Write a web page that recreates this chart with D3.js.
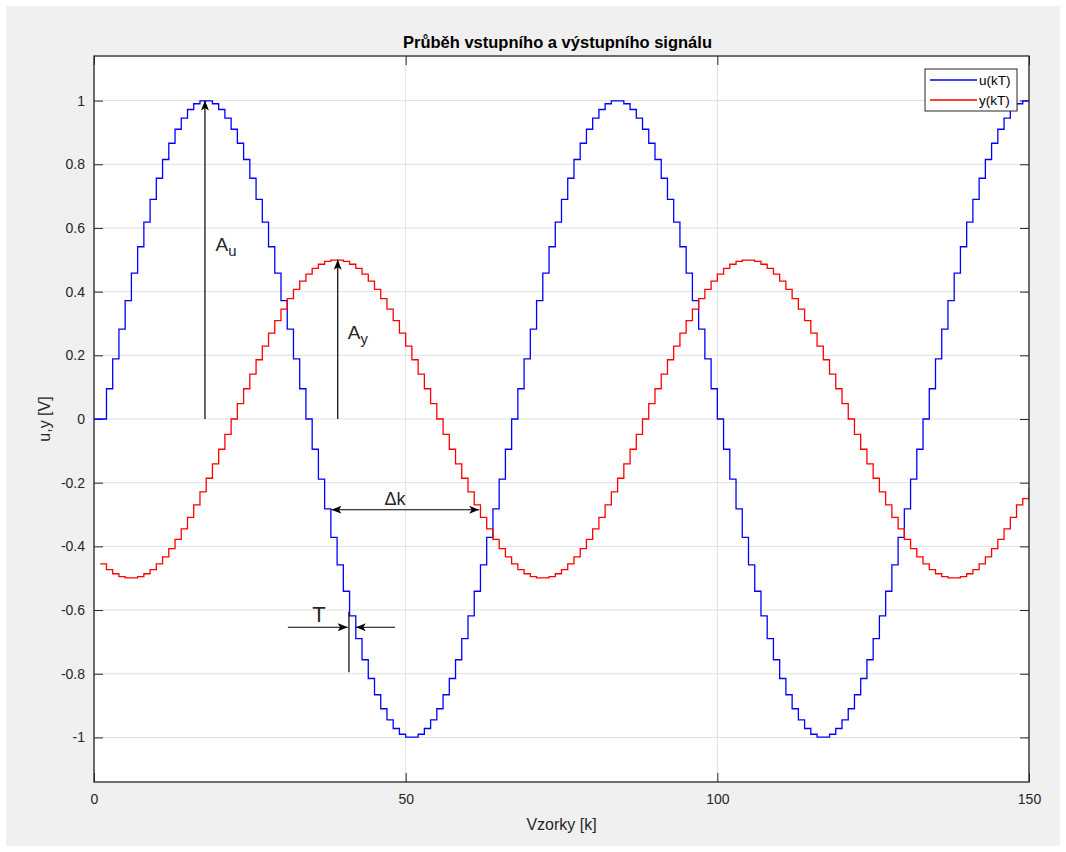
<!DOCTYPE html>
<html>
<head>
<meta charset="utf-8">
<script src="https://cdn.jsdelivr.net/npm/d3@7"></script>
<style>
  html, body { margin: 0; padding: 0; background: #fff; }
  svg { display: block; font-family: "Liberation Sans", Arial, Helvetica, sans-serif; }
</style>
</head>
<body>
<svg id="chart" width="1066" height="852"></svg>
<script>
// vstupni signal u(kT), vzorky k = 0..150
const uValues = [0,
  0, .095, .189, .282, .372, .458, .541, .618, .690, .756, .815, .866, .910, .945, .972, .990, .999,
  .999, .990, .972, .945, .910, .866, .815, .756, .690, .618, .541, .458, .372, .282, .189, .095,
  0, -.095, -.189, -.282, -.372, -.458, -.541, -.618, -.690, -.756, -.815, -.866, -.910, -.945, -.972, -.990, -.999,
  -.999, -.990, -.972, -.945, -.910, -.866, -.815, -.756, -.690, -.618, -.541, -.458, -.372, -.282, -.189, -.095,
  0, .095, .189, .282, .372, .458, .541, .618, .690, .756, .815, .866, .910, .945, .972, .990, .999,
  .999, .990, .972, .945, .910, .866, .815, .756, .690, .618, .541, .458, .372, .282, .189, .095,
  0, -.095, -.189, -.282, -.372, -.458, -.541, -.618, -.690, -.756, -.815, -.866, -.910, -.945, -.972, -.990, -.999,
  -.999, -.990, -.972, -.945, -.910, -.866, -.815, -.756, -.690, -.618, -.541, -.458, -.372, -.282, -.189, -.095,
  0, .095, .189, .282, .372, .458, .541, .618, .690, .756, .815, .866, .910, .945, .972, .990, .999, .999]

// vystupni signal y(kT), vzorky k = 1..150
const yFirstSample = 1
const yValues = [
  -.455, -.473, -.486, -.495, -.499, -.499, -.495, -.486, -.473, -.455, -.433, -.407, -.378, -.345, -.309, -.270, -.229, -.186, -.141, -.095, -.048,
  0, .048, .095, .141, .186, .229, .270, .309, .345, .378, .407, .433, .455, .473, .486, .495, .499,
  .499, .495, .486, .473, .455, .433, .407, .378, .345, .309, .270, .229, .186, .141, .095, .048,
  0, -.048, -.095, -.141, -.186, -.229, -.270, -.309, -.345, -.378, -.407, -.433, -.455, -.473, -.486, -.495, -.499,
  -.499, -.495, -.486, -.473, -.455, -.433, -.407, -.378, -.345, -.309, -.270, -.229, -.186, -.141, -.095, -.048,
  0, .048, .095, .141, .186, .229, .270, .309, .345, .378, .407, .433, .455, .473, .486, .495, .499,
  .499, .495, .486, .473, .455, .433, .407, .378, .345, .309, .270, .229, .186, .141, .095, .048,
  0, -.048, -.095, -.141, -.186, -.229, -.270, -.309, -.345, -.378, -.407, -.433, -.455, -.473, -.486, -.495, -.499,
  -.499, -.495, -.486, -.473, -.455, -.433, -.407, -.378, -.345, -.309, -.270, -.250, -.215]

const xTicks = [0, 50, 100, 150]
const yTicks = [-1, -0.8, -0.6, -0.4, -0.2, 0, 0.2, 0.4, 0.6, 0.8, 1]
const seriesNames = ['u(kT)', 'y(kT)']
const seriesColors = ['#0000ff', '#ff0000']
const titleText = 'Průběh vstupního a výstupního signálu'
const xLabel = 'Vzorky [k]'
const yLabel = 'u,y [V]'

const svg = d3.select('#chart')
const W = 1066, H = 852
const plot = {left: 94, right: 1029, top: 56, bottom: 782}

// pozadi figure
svg.append('rect').attr('x', 6).attr('y', 6).attr('width', W - 12).attr('height', H - 12)
  .attr('fill', '#f0f0f0')

const x = d3.scaleLinear().domain([0, 150]).range([plot.left, plot.right])
const y = d3.scaleLinear().domain([-1.14, 1.14]).range([plot.bottom, plot.top])

svg.append('rect')
  .attr('x', plot.left).attr('y', plot.top)
  .attr('width', plot.right - plot.left).attr('height', plot.bottom - plot.top)
  .attr('fill', '#fff')

// mrizka
const grid = svg.append('g').attr('stroke', '#dfdfdf').attr('stroke-width', 1)
grid.selectAll('.gx').data(xTicks).join('line')
  .attr('x1', d => x(d)).attr('x2', d => x(d))
  .attr('y1', plot.top).attr('y2', plot.bottom)
grid.selectAll('.gy').data(yTicks).join('line')
  .attr('y1', d => y(d)).attr('y2', d => y(d))
  .attr('x1', plot.left).attr('x2', plot.right)

// ticky dovnitr na vsech stranach
const tickLen = 9
const fmt = d => String(+d.toFixed(1))
function styleAxis(g) {
  g.select('.domain').remove()
  g.selectAll('.tick line').attr('stroke', '#262626')
  g.selectAll('.tick text').attr('fill', '#262626').style('font-size', '14px')
  g.attr('font-family', null)
}
svg.append('g').attr('transform', `translate(0,${plot.bottom})`)
  .call(d3.axisBottom(x).tickValues(xTicks).tickSize(-tickLen).tickPadding(12).tickFormat(fmt))
  .call(styleAxis)
svg.append('g').attr('transform', `translate(0,${plot.top})`)
  .call(d3.axisTop(x).tickValues(xTicks).tickSize(-tickLen).tickFormat(''))
  .call(styleAxis)
svg.append('g').attr('transform', `translate(${plot.left},0)`)
  .call(d3.axisLeft(y).tickValues(yTicks).tickSize(-tickLen).tickPadding(9).tickFormat(fmt))
  .call(styleAxis)
svg.append('g').attr('transform', `translate(${plot.right},0)`)
  .call(d3.axisRight(y).tickValues(yTicks).tickSize(-tickLen).tickFormat(''))
  .call(styleAxis)

svg.append('clipPath').attr('id', 'clip').append('rect')
  .attr('x', plot.left).attr('y', plot.top)
  .attr('width', plot.right - plot.left).attr('height', plot.bottom - plot.top)

// stairs
const stairs = d3.line().curve(d3.curveStepAfter)
const lines = svg.append('g').attr('clip-path', 'url(#clip)').attr('fill', 'none').attr('stroke-width', 1.3)
lines.append('path')
  .attr('d', stairs(uValues.map((v, i) => [x(i), y(v)])))
  .attr('stroke', seriesColors[0])
lines.append('path')
  .attr('d', stairs(yValues.map((v, i) => [x(i + yFirstSample), y(v)])))
  .attr('stroke', seriesColors[1])

// ramecek
svg.append('rect')
  .attr('x', plot.left).attr('y', plot.top)
  .attr('width', plot.right - plot.left).attr('height', plot.bottom - plot.top)
  .attr('fill', 'none').attr('stroke', '#262626').attr('stroke-width', 1.3)

// sipky
svg.append('defs').append('marker')
  .attr('id', 'ah').attr('viewBox', '0 0 10 8').attr('refX', 10).attr('refY', 4)
  .attr('markerUnits', 'userSpaceOnUse').attr('markerWidth', 10).attr('markerHeight', 8)
  .attr('orient', 'auto-start-reverse')
  .append('path').attr('d', 'M0,0 L10,4 L0,8 L2.5,4 Z').attr('fill', '#000')

const ann = svg.append('g').attr('stroke', '#000').attr('stroke-width', 1.2).attr('fill', 'none')
function arrow(k1, v1, k2, v2, both) {
  const l = ann.append('line')
    .attr('x1', x(k1)).attr('y1', y(v1)).attr('x2', x(k2)).attr('y2', y(v2))
    .attr('marker-end', 'url(#ah)')
  if (both) l.attr('marker-start', 'url(#ah)')
}
arrow(17.8, 0, 17.8, 1)
arrow(39.1, 0, 39.1, 0.5)
arrow(38.1, -0.285, 61.8, -0.285, true)
arrow(31.1, -0.654, 40.7, -0.654)
arrow(48.3, -0.654, 42.0, -0.654)
ann.append('line').attr('x1', x(40.9)).attr('x2', x(40.9)).attr('y1', y(-0.605)).attr('y2', y(-0.795))

const txt = svg.append('g').attr('fill', '#262626')
function label(k, v, main, sub, size) {
  const t = txt.append('text').attr('x', x(k)).attr('y', y(v)).style('font-size', size + 'px')
  t.append('tspan').text(main)
  if (sub) t.append('tspan').attr('dy', 5).style('font-size', (size * 0.78) + 'px').text(sub)
}
label(19.5, 0.527, 'A', 'u', 19)
label(40.7, 0.25, 'A', 'y', 19)
txt.append('text').attr('x', x(48.3)).attr('y', y(-0.27)).attr('text-anchor', 'middle')
  .style('font-size', '18px').text('Δk')
txt.append('text').attr('x', x(36.1)).attr('y', y(-0.636)).attr('text-anchor', 'middle')
  .style('font-size', '22px').text('T')

// titulek a popisky os
svg.append('text').attr('x', (plot.left + plot.right) / 2 - 4).attr('y', 48)
  .attr('text-anchor', 'middle').attr('font-weight', 'bold').attr('fill', '#000')
  .style('font-size', '16.5px').text(titleText)
svg.append('text').attr('x', (plot.left + plot.right) / 2).attr('y', 830)
  .attr('text-anchor', 'middle').attr('fill', '#262626')
  .style('font-size', '16px').text(xLabel)
svg.append('text').attr('transform', `translate(50,${y(0)}) rotate(-90)`)
  .attr('text-anchor', 'middle').attr('fill', '#262626')
  .style('font-size', '16px').text(yLabel)

// legenda
const leg = svg.append('g').attr('transform', `translate(${plot.right - 104},${plot.top + 13})`)
leg.append('rect').attr('width', 92).attr('height', 42)
  .attr('fill', '#fff').attr('stroke', '#262626').attr('stroke-width', 1)
seriesNames.forEach((name, i) => {
  const row = leg.append('g').attr('transform', `translate(0,${11 + i * 20})`)
  row.append('line').attr('x1', 5).attr('x2', 52).attr('stroke', seriesColors[i]).attr('stroke-width', 1.3)
  row.append('text').attr('x', 54).attr('y', 5).attr('fill', '#000')
    .style('font-size', '13.5px').text(name)
})
</script>
</body>
</html>
